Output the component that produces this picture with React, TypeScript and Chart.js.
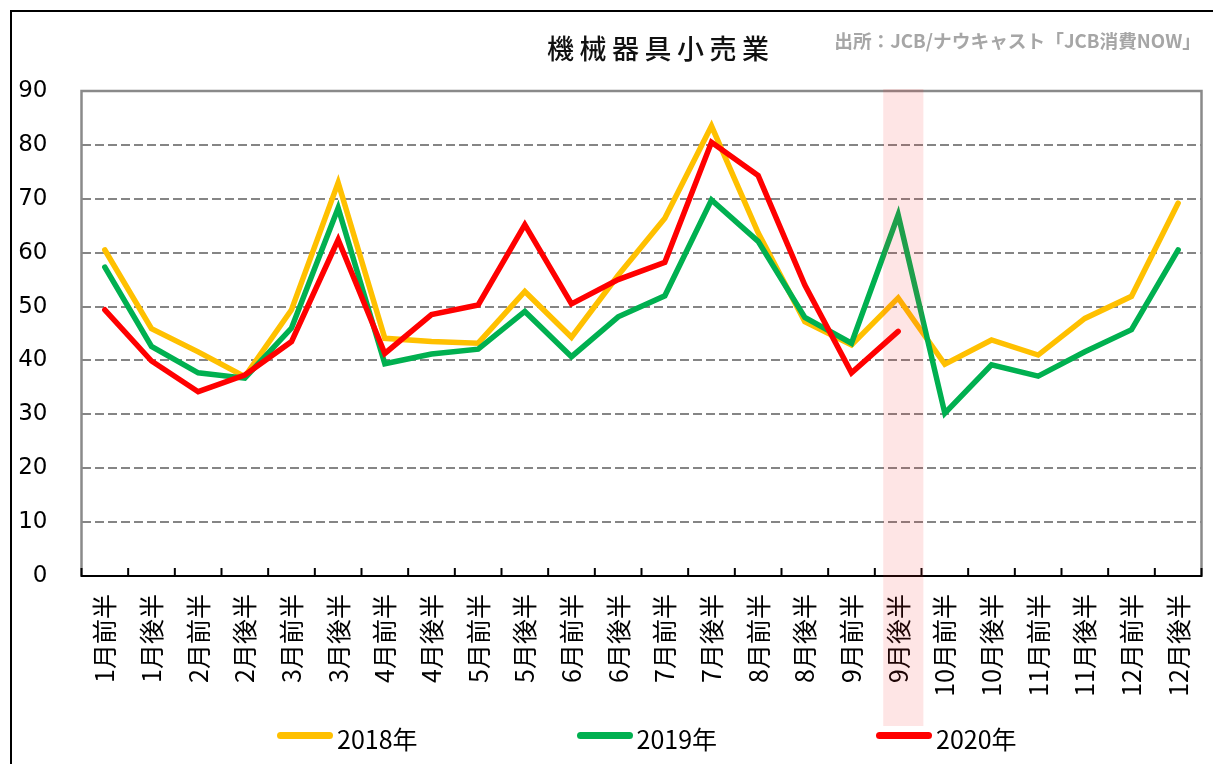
import React, { useEffect, useRef } from 'react';
import { Chart, registerables } from 'chart.js';

Chart.register(...registerables);

const categories = [
  '1月前半', '1月後半', '2月前半', '2月後半', '3月前半', '3月後半',
  '4月前半', '4月後半', '5月前半', '5月後半', '6月前半', '6月後半',
  '7月前半', '7月後半', '8月前半', '8月後半', '9月前半', '9月後半',
  '10月前半', '10月後半', '11月前半', '11月後半', '12月前半', '12月後半',
];

const series2018 = [60.5, 45.9, 41.6, 37.0, 49.4, 73.0, 44.1, 43.5, 43.2, 52.8, 44.3, 55.8,
  66.4, 83.5, 63.7, 47.2, 42.9, 51.6, 39.3, 43.8, 41.0, 47.8, 51.9, 69.2];
const series2019 = [57.3, 42.6, 37.7, 36.7, 46.0, 68.3, 39.4, 41.2, 42.1, 49.1, 40.7, 48.1,
  52.0, 69.8, 62.1, 48.0, 43.2, 67.0, 30.2, 39.2, 37.1, 41.6, 45.7, 60.5];
const series2020 = [49.4, 39.9, 34.2, 37.3, 43.5, 62.4, 41.3, 48.5, 50.3, 65.2, 50.5, 55.0,
  58.2, 80.5, 74.3, 54.0, 37.7, 45.4, null, null, null, null, null, null];

const seriesNames = ['2018年', '2019年', '2020年'];
const seriesColors = ['#FFC000', '#00B050', '#FF0000'];
const seriesValues = [series2018, series2019, series2020];

const yMin = 0;
const yMax = 90;
const yStep = 10;

const highlightCategory = '9月後半';
const titleText = '機械器具小売業';
const sourceText = '出所：JCB/ナウキャスト「JCB消費NOW」';

const framePlugin = {
  id: 'frameAndTicks',
  beforeDatasetsDraw(chart: any) {
    const { ctx, chartArea } = chart;
    const { left, right, top, bottom } = chartArea;
    const xs = chart.scales.x;
    ctx.save();
    ctx.lineWidth = 2.5;
    ctx.strokeStyle = '#8a8a8a';
    ctx.setLineDash([]);
    ctx.beginPath();
    ctx.moveTo(left, bottom);
    ctx.lineTo(left, top);
    ctx.lineTo(right, top);
    ctx.lineTo(right, bottom);
    ctx.stroke();
    ctx.strokeStyle = '#000';
    ctx.lineWidth = 2;
    ctx.beginPath();
    ctx.moveTo(left - 1, bottom);
    ctx.lineTo(right + 1, bottom);
    for (let i = 0; i <= categories.length; i++) {
      const px = xs.getPixelForValue(i - 0.5);
      ctx.moveTo(px, bottom);
      ctx.lineTo(px, bottom - 8);
    }
    ctx.stroke();
    ctx.restore();
  },
  afterDraw(chart: any) {
    const { ctx, chartArea } = chart;
    const xs = chart.scales.x;
    const idx = categories.indexOf(highlightCategory);
    if (idx < 0) return;
    const l = xs.getPixelForValue(idx - 0.32);
    const r = xs.getPixelForValue(idx + 0.54);
    const t = chartArea.top - 2;
    const b = chartArea.bottom + 150;
    ctx.save();
    ctx.fillStyle = 'rgba(250, 40, 40, 0.12)';
    ctx.fillRect(l, t, r - l, b - t);
    ctx.restore();
  },
};

export default function App() {
  const canvasRef = useRef<HTMLCanvasElement | null>(null);

  useEffect(() => {
    if (!canvasRef.current) return;
    const chart = new Chart(canvasRef.current, {
      type: 'line',
      data: {
        labels: categories,
        datasets: seriesValues.map((vals, i) => ({
          label: seriesNames[i],
          data: vals,
          borderColor: seriesColors[i],
          backgroundColor: seriesColors[i],
          borderWidth: 5.5,
          pointRadius: 0,
          pointHoverRadius: 0,
          tension: 0,
          fill: false,
          spanGaps: false,
          borderCapStyle: 'round',
          borderJoinStyle: 'miter',
          order: seriesValues.length - i,
        })),
      },
      options: {
        responsive: false,
        animation: false,
        events: [],
        layout: { padding: { left: 12, right: 11.5, top: 91, bottom: 68 } },
        plugins: {
          legend: { display: false },
          title: { display: false },
          tooltip: { enabled: false },
        },
        scales: {
          x: {
            type: 'category',
            offset: true,
            grid: { display: false, drawTicks: false },
            border: { display: false },
            ticks: {
              autoSkip: false,
              maxRotation: 90,
              minRotation: 90,
              padding: 18,
              color: '#000',
              font: { family: '"Noto Sans CJK JP", "Noto Sans", sans-serif', size: 25 },
            },
            afterFit(scale: any) {
              scale.height = 120;
              scale.paddingLeft = 0;
              scale.paddingRight = 0;
            },
          },
          y: {
            min: yMin,
            max: yMax,
            grid: {
              color: (c: any) => (c.tick && (c.tick.value === yMin || c.tick.value === yMax) ? 'rgba(0,0,0,0)' : '#858585'),
              lineWidth: 2,
              drawTicks: false,
            },
            border: { display: false, dash: [9, 4] },
            ticks: {
              stepSize: yStep,
              padding: 34,
              color: '#000',
              font: { family: '"DejaVu Sans", sans-serif', size: 23 },
            },
            afterFit(scale: any) {
              scale.width = 69.5;
              scale.paddingTop = 0;
              scale.paddingBottom = 0;
            },
          },
        },
      },
      plugins: [framePlugin],
    } as any);
    return () => chart.destroy();
  }, []);

  return (
    <div style={{ position: 'absolute', left: 0, top: 0, width: 1213, height: 764, overflow: 'hidden', background: '#fff' }}>
      <div style={{ position: 'absolute', left: 10, top: 10, width: 1300, height: 900, border: '2px solid #000' }} />
      <canvas ref={canvasRef} width={1213} height={764} style={{ position: 'absolute', left: 0, top: 0 }} />
      <div
        style={{
          position: 'absolute', left: 547, top: 34, fontSize: 27, lineHeight: '28px', letterSpacing: 5.5,
          fontFamily: '"Noto Sans CJK JP", sans-serif', fontWeight: 500, color: '#111', whiteSpace: 'nowrap',
        }}
      >
        {titleText}
      </div>
      <div
        style={{
          position: 'absolute', right: 12, top: 30, fontSize: 18.7, lineHeight: '19px',
          fontFamily: '"Noto Sans CJK JP", sans-serif', fontWeight: 700, color: '#a6a6a6', whiteSpace: 'nowrap',
        }}
      >
        {sourceText}
      </div>
      <div style={{ position: 'absolute', left: 277, top: 725, display: 'flex', height: 26 }}>
        {seriesNames.map((name, i) => (
          <div key={name} style={{ width: 299.5, display: 'flex', alignItems: 'center' }}>
            <div style={{ width: 56, height: 7, borderRadius: 3.5, background: seriesColors[i], marginRight: 4, marginTop: -6 }} />
            <span style={{ fontFamily: '"Noto Sans CJK JP", sans-serif', fontSize: 25, lineHeight: '26px', color: '#000' }}>{name}</span>
          </div>
        ))}
      </div>
    </div>
  );
}
